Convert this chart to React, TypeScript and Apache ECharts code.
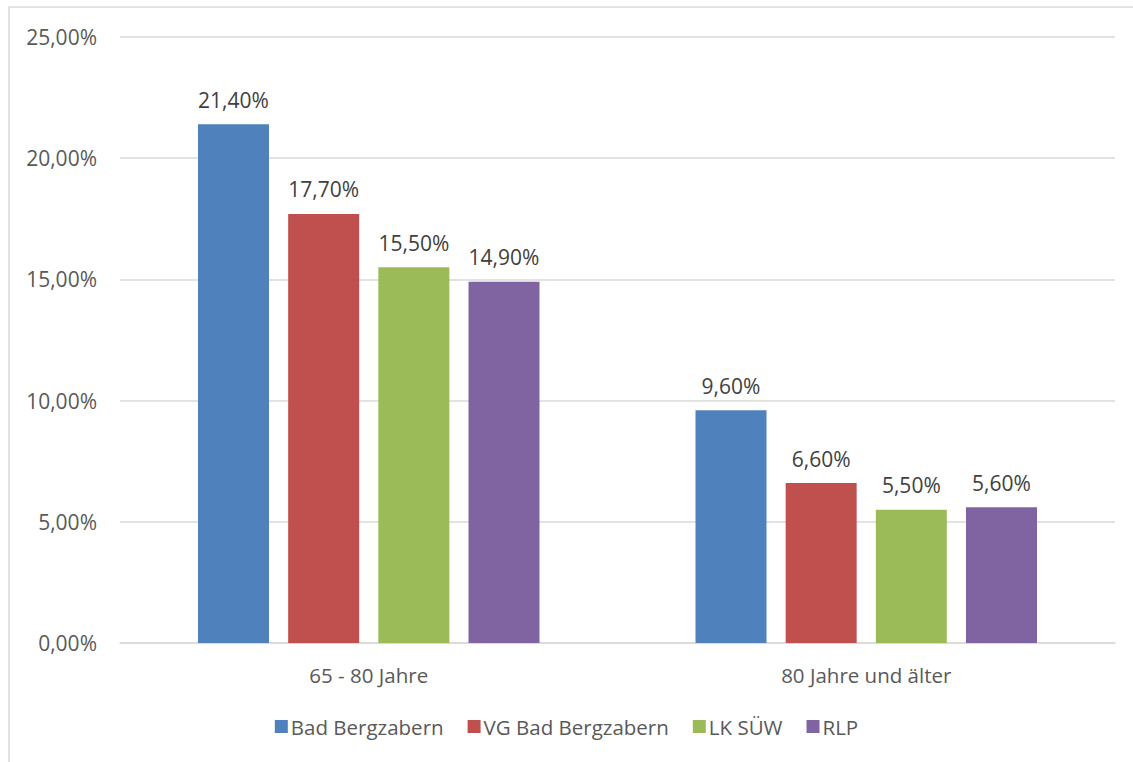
import React, { useEffect, useRef } from "react";
import * as echarts from "echarts";

const categories = ["65 - 80 Jahre", "80 Jahre und älter"];
const seriesNames = ["Bad Bergzabern", "VG Bad Bergzabern", "LK SÜW", "RLP"];
const badBergzabern = [21.4, 9.6];
const vgBadBergzabern = [17.7, 6.6];
const lkSuew = [15.5, 5.5];
const rlp = [14.9, 5.6];
const colors = ["#4F81BD", "#C0504D", "#9BBB59", "#8064A2"];

const fmt = (v: number) => v.toFixed(2).replace(".", ",") + "%";

export default function App() {
  const ref = useRef<HTMLDivElement>(null);
  useEffect(() => {
    if (!ref.current) return;
    const chart = echarts.init(ref.current, undefined, { renderer: "svg" });
    const values = [badBergzabern, vgBadBergzabern, lkSuew, rlp];
    const font = "'Open Sans', 'Noto Sans', sans-serif";
    chart.setOption({
      animation: false,
      textStyle: { fontFamily: font },
      graphic: [
        {
          type: "rect",
          shape: { x: 9, y: 7, width: 1200, height: 800 },
          style: { fill: "none", stroke: "#D9D9D9", lineWidth: 1.5 },
          silent: true,
        },
      ],
      grid: { left: 120, right: 18, top: 37, bottom: 119 },
      legend: {
        bottom: 20,
        left: "center",
        itemWidth: 13,
        itemHeight: 13,
        itemGap: 24,
        icon: "rect",
        textStyle: { color: "#595959", fontSize: 20.5, fontFamily: font, padding: [0, 0, 0, -2] },
        data: seriesNames,
      },
      xAxis: {
        type: "category",
        data: categories,
        axisLine: { lineStyle: { color: "#D9D9D9", width: 1.5 } },
        axisTick: { show: false },
        axisLabel: { color: "#595959", fontSize: 20.5, margin: 21, fontFamily: font },
      },
      yAxis: {
        type: "value",
        min: 0,
        max: 25,
        interval: 5,
        axisLabel: { color: "#595959", fontSize: 21, margin: 23, formatter: (v: number) => fmt(v), fontFamily: font },
        splitLine: { lineStyle: { color: "#D9D9D9", width: 1.5 } },
        axisLine: { show: false },
        axisTick: { show: false },
      },
      series: seriesNames.map((name, i) => ({
        name,
        type: "bar",
        data: values[i],
        barWidth: 71,
        barGap: "27%",
        itemStyle: { color: colors[i] },
        label: {
          show: true,
          position: "top",
          distance: 14,
          color: "#404040",
          fontSize: 21,
          fontFamily: font,
          formatter: (p: any) => fmt(p.value),
        },
      })),
    });
    return () => chart.dispose();
  }, []);
  return (
    <div
      ref={ref}
      style={{ position: "fixed", left: 0, top: 0, width: 1133, height: 762, background: "#fff" }}
    />
  );
}
